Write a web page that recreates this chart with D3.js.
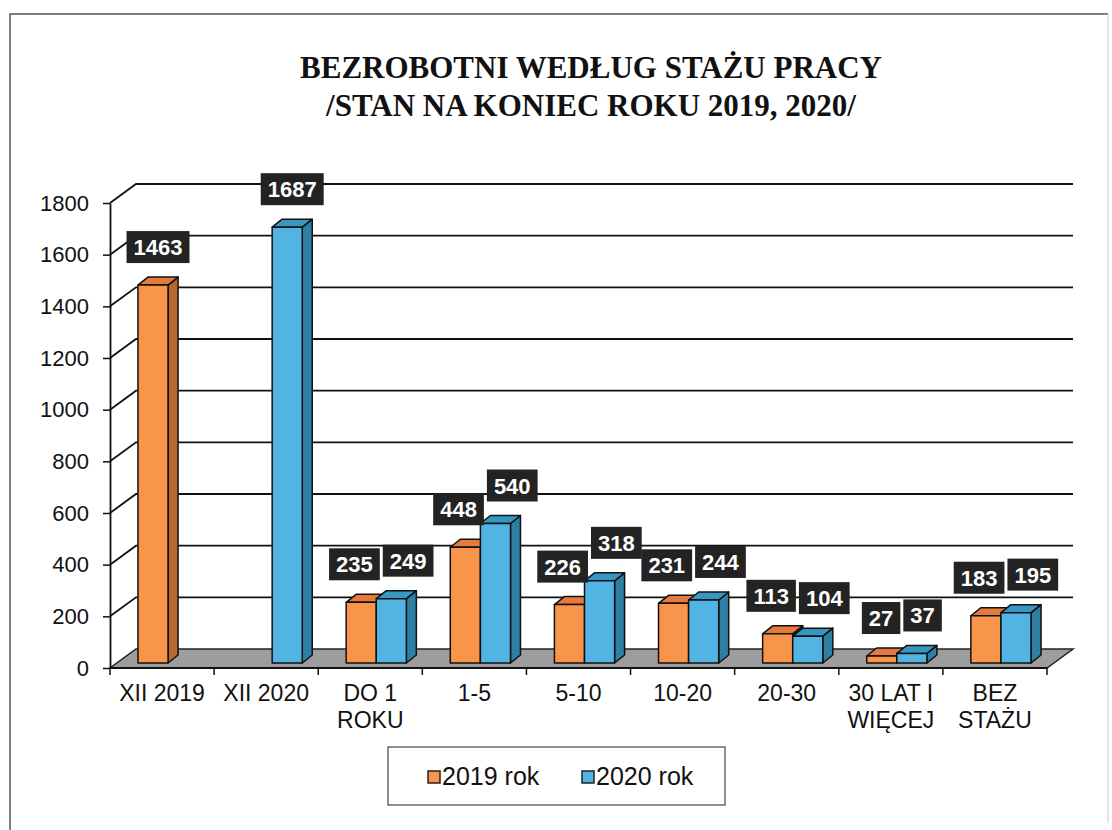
<!DOCTYPE html>
<html>
<head>
<meta charset="utf-8">
<script src="https://cdn.jsdelivr.net/npm/d3@7"></script>
<style>
	body { margin: 0; background: #fff; }
	svg { display: block; }
</style>
</head>
<body>
<svg id="chart" width="1112" height="830"></svg>
<script>
// chart data
const categories = ["XII 2019", "XII 2020", "DO 1 ROKU", "1-5", "5-10", "10-20", "20-30", "30 LAT I WIĘCEJ", "BEZ STAŻU"];
const categoryLines = [["XII 2019"], ["XII 2020"], ["DO 1", "ROKU"], ["1-5"], ["5-10"], ["10-20"], ["20-30"], ["30 LAT I", "WIĘCEJ"], ["BEZ", "STAŻU"]];
const seriesNames = ["2019 rok", "2020 rok"];
const values2019 = [1463, null, 235, 448, 226, 231, 113, 27, 183];
const values2020 = [null, 1687, 249, 540, 318, 244, 104, 37, 195];
const yTicks = [0, 200, 400, 600, 800, 1000, 1200, 1400, 1600, 1800];
const titleLines = ["BEZROBOTNI WEDŁUG STAŻU PRACY", "/STAN NA KONIEC ROKU 2019, 2020/"];

const svg = d3.select("#chart");
const font = "'Liberation Sans', Arial, sans-serif";

const colors = {
	"2019 rok": { front: "#f9954a", top: "#e47a3c", side: "#b8672f" },
	"2020 rok": { front: "#52b4e2", top: "#3896c2", side: "#2f7ea3" }
};

// wall depth and bar placement inside it
const DX = 26, DY = -19;
const BX = 6, BY = -5;
const BDX = 10, BDY = -8;

const x = d3.scaleBand().domain(categories).range([110, 1047]);
const slot = d3.scaleBand().domain(seriesNames).range([0, x.bandwidth()]).paddingOuter(0.73);
const y = d3.scaleLinear().domain([0, 1800]).range([668, 203]);

// frame
svg.append("path")
  .attr("d", "M10,830 L10,14 L1108,14")
  .attr("fill", "none").attr("stroke", "#555").attr("stroke-width", 1.5);
svg.append("line")
  .attr("x1", 1108).attr("y1", 14).attr("x2", 1108).attr("y2", 823)
  .attr("stroke", "#ccc").attr("stroke-width", 1);

// title
svg.append("g").selectAll("text")
  .data(titleLines)
  .join("text")
	.attr("x", 591)
	.attr("y", (d, i) => 78 + i * 38)
	.attr("text-anchor", "middle")
	.attr("font-family", "'Liberation Serif', 'Times New Roman', serif")
	.attr("font-weight", "bold")
	.attr("font-size", 31)
	.attr("fill", "#111")
	.text(d => d);

const x0 = x.range()[0], x1 = x.range()[1];

// back wall gridlines
const grid = svg.append("g").attr("stroke", "#111").attr("stroke-width", 1.8).attr("fill", "none");
grid.selectAll("path")
  .data(yTicks.filter(d => d > 0))
  .join("path")
	.attr("d", d => `M${x0},${y(d)} L${x0 + DX},${y(d) + DY} L${x1 + DX},${y(d) + DY}`);

// floor
svg.append("path")
  .attr("d", `M${x0},${y(0)} L${x1},${y(0)} L${x1 + DX},${y(0) + DY} L${x0 + DX},${y(0) + DY} Z`)
  .attr("fill", "#9d9d9d")
  .attr("stroke", "#222")
  .attr("stroke-width", 1.5);

// y axis
const yAxis = svg.append("g")
  .attr("transform", `translate(${x0},0)`)
  .call(d3.axisLeft(y).tickValues(yTicks).tickFormat(d3.format("d"))
	.tickSize(7).tickSizeOuter(0).tickPadding(14));
yAxis.select(".domain").attr("stroke", "#111").attr("stroke-width", 1.8);
yAxis.selectAll(".tick line").attr("stroke", "#111").attr("stroke-width", 1.5);
yAxis.selectAll(".tick text")
  .attr("font-family", font).attr("font-size", 22).attr("fill", "#111");

// x axis line and boundary ticks
svg.append("line")
  .attr("x1", x0).attr("y1", y(0)).attr("x2", x1).attr("y2", y(0))
  .attr("stroke", "#111").attr("stroke-width", 1.8);
svg.append("g").selectAll("line")
  .data(categories.map(c => x(c)).concat([x1]))
  .join("line")
	.attr("x1", d => d).attr("x2", d => d)
	.attr("y1", y(0)).attr("y2", y(0) + 7)
	.attr("stroke", "#111").attr("stroke-width", 1.5);

// category labels
const catLabels = svg.append("g")
  .attr("font-family", font).attr("font-size", 23).attr("fill", "#111").attr("text-anchor", "middle");
categories.forEach(function(c, i) {
	const t = catLabels.append("text")
	  .attr("x", x(c) + x.bandwidth() / 2)
	  .attr("y", 701);
	categoryLines[i].forEach(function(line, j) {
		t.append("tspan")
		  .attr("x", x(c) + x.bandwidth() / 2)
		  .attr("dy", j === 0 ? 0 : 27)
		  .text(line);
	});
});

// bars
const bars = [];
categories.forEach(function(c, i) {
	[values2019[i], values2020[i]].forEach(function(v, s) {
		if (v === null) return;
		const name = seriesNames[s];
		const bx0 = x(c) + slot(name) + BX;
		const bx1 = bx0 + slot.bandwidth();
		const yt = y(v) + BY;
		const yb = y(0) + BY;
		bars.push({ cat: i, name: name, value: v, x0: bx0, x1: bx1, yt: yt, yb: yb });
	});
});

const barG = svg.append("g").attr("stroke", "#111").attr("stroke-width", 1.5).attr("stroke-linejoin", "round");
bars.forEach(function(b) {
	const col = colors[b.name];
	barG.append("path")
	  .attr("d", `M${b.x1},${b.yt} L${b.x1 + BDX},${b.yt + BDY} L${b.x1 + BDX},${b.yb + BDY} L${b.x1},${b.yb} Z`)
	  .attr("fill", col.side);
	barG.append("path")
	  .attr("d", `M${b.x0},${b.yt} L${b.x1},${b.yt} L${b.x1 + BDX},${b.yt + BDY} L${b.x0 + BDX},${b.yt + BDY} Z`)
	  .attr("fill", col.top);
	barG.append("rect")
	  .attr("x", b.x0).attr("y", b.yt)
	  .attr("width", b.x1 - b.x0).attr("height", b.yb - b.yt)
	  .attr("fill", col.front);
});

// value labels
const labelG = svg.append("g");
const boxH = 32;
bars.forEach(function(b) {
	const g = labelG.append("g");
	const t = g.append("text")
	  .attr("font-family", font).attr("font-weight", "bold").attr("font-size", 22)
	  .attr("fill", "#fff").attr("text-anchor", "middle")
	  .text(b.value);
	b.w = t.node().getComputedTextLength() + 14;
	b.cx = (b.x0 + b.x1) / 2 + BDX / 2;
	b.cy = b.yt - 38;
	b.g = g;
});

// push apart labels of one category if they collide
categories.forEach(function(c, i) {
	const pair = bars.filter(b => b.cat === i);
	if (pair.length < 2) return;
	const a = pair[0], b = pair[1];
	const overlapX = (a.w + b.w) / 2 + 3 - (b.cx - a.cx);
	const overlapY = Math.abs(a.cy - b.cy) < boxH;
	if (overlapX > 0 && overlapY) {
		a.cx -= overlapX / 2;
		b.cx += overlapX / 2;
	}
});

bars.forEach(function(b) {
	b.g.insert("rect", "text")
	  .attr("x", b.cx - b.w / 2).attr("y", b.cy - boxH / 2)
	  .attr("width", b.w).attr("height", boxH)
	  .attr("fill", "#232323");
	b.g.select("text")
	  .attr("x", b.cx).attr("y", b.cy + 8);
});

// legend
const legend = svg.append("g");
legend.append("rect")
  .attr("x", 388).attr("y", 747).attr("width", 337).attr("height", 58)
  .attr("fill", "#fff").attr("stroke", "#444").attr("stroke-width", 1.2);
const legendX = [428, 582];
seriesNames.forEach(function(name, i) {
	legend.append("rect")
	  .attr("x", legendX[i]).attr("y", 771).attr("width", 12).attr("height", 12)
	  .attr("fill", colors[name].front).attr("stroke", "#222").attr("stroke-width", 1.5);
	legend.append("text")
	  .attr("x", legendX[i] + 14).attr("y", 785)
	  .attr("font-family", font).attr("font-size", 25).attr("fill", "#111")
	  .text(name);
});
</script>
</body>
</html>
